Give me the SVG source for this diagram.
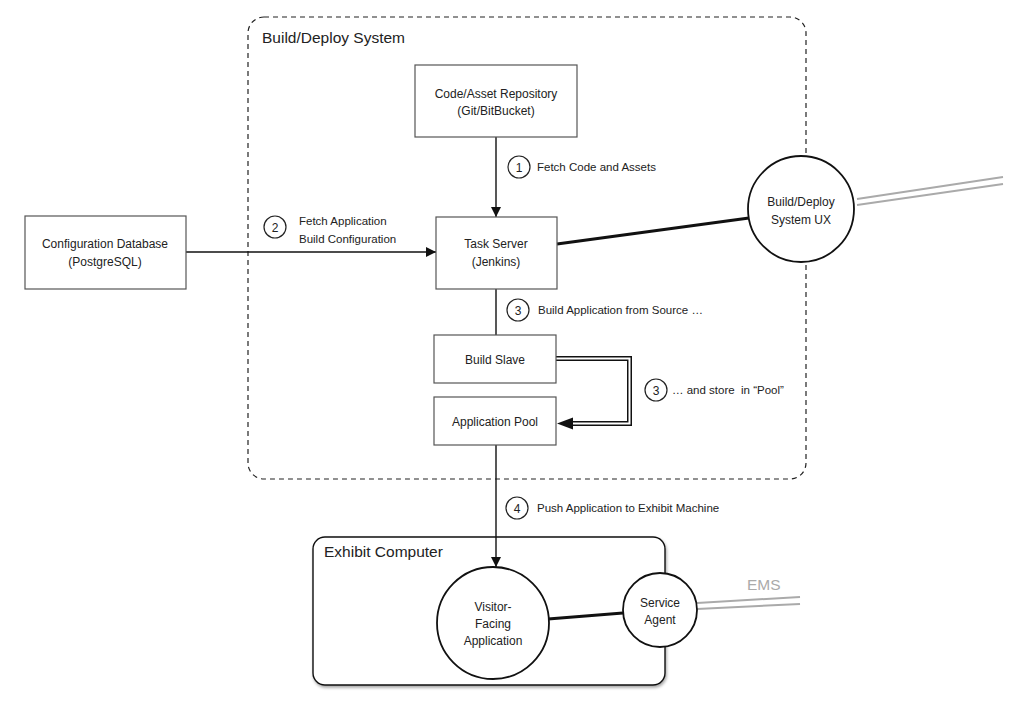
<svg xmlns="http://www.w3.org/2000/svg" width="1024" height="709" viewBox="0 0 1024 709">
<defs>
<style>
text{font-family:"Liberation Sans",Arial,sans-serif;fill:#222;}
.t{font-size:12px;text-anchor:middle;}
.l{font-size:11.5px;}
.h{font-size:15.5px;}
.box{fill:#fff;stroke:#555;stroke-width:1.2;}
.circ{fill:#fff;stroke:#111;stroke-width:1.8;}
.num{fill:#fff;stroke:#222;stroke-width:1.2;}
.ln{stroke:#111;stroke-width:1.4;fill:none;}
.thick{stroke:#111;stroke-width:3;fill:none;}
.gray{stroke:#aaa;stroke-width:2;fill:none;}
</style>
<marker id="ah" viewBox="0 0 10 10" refX="10" refY="5" markerWidth="10" markerHeight="10" markerUnits="userSpaceOnUse" orient="auto">
<path d="M0,0 L10,5 L0,10 z" fill="#111"/>
</marker>
<marker id="ah2" viewBox="0 0 16 12" refX="16" refY="6" markerWidth="16" markerHeight="12" markerUnits="userSpaceOnUse" orient="auto">
<path d="M0,0 L16,6 L0,12 z" fill="#111"/>
</marker>
<filter id="sh" x="-5%" y="-5%" width="110%" height="115%">
<feDropShadow dx="1" dy="2" stdDeviation="1.5" flood-color="#000" flood-opacity="0.35"/>
</filter>
</defs>
<rect width="1024" height="709" fill="#fff"/>

<g id="build-deploy-system">
<rect x="248" y="17" width="558" height="462" rx="16" fill="none" stroke="#222" stroke-width="1.2" stroke-dasharray="5,4"/>
<text class="h" x="262" y="43">Build/Deploy System</text>
</g>

<g id="exhibit-computer">
<rect x="313" y="537" width="352" height="148" rx="12" fill="#fff" stroke="#111" stroke-width="1.4" filter="url(#sh)"/>
<text class="h" x="324" y="557">Exhibit Computer</text>
</g>

<g id="connectors">
<line class="ln" x1="496" y1="137" x2="496" y2="217" marker-end="url(#ah)"/>
<line class="ln" x1="186" y1="252" x2="436" y2="252" marker-end="url(#ah)"/>
<line class="thick" x1="557" y1="244" x2="749" y2="218"/>
<line class="gray" x1="857" y1="199" x2="1003" y2="177"/>
<line class="gray" x1="857" y1="205" x2="1003" y2="184"/>
<line class="ln" x1="496" y1="289" x2="496" y2="335"/>
<path d="M556,358.5 H629.5 V423.5 H572" fill="none" stroke="#111" stroke-width="5"/>
<path d="M556,358.5 H629.5 V423.5 H572" fill="none" stroke="#fff" stroke-width="2"/>
<path d="M557,423.5 L573,417.5 L573,429.5 z" fill="#111"/>
<line class="ln" x1="496" y1="445" x2="496" y2="567" marker-end="url(#ah)"/>
<line class="thick" x1="548" y1="619" x2="623" y2="613"/>
<line class="gray" x1="697" y1="603" x2="800" y2="597"/>
<line class="gray" x1="697" y1="609" x2="800" y2="604"/>
</g>

<g id="code-repo">
<rect class="box" x="415" y="65" width="162" height="72"/>
<text class="t" x="496" y="98">Code/Asset Repository</text>
<text class="t" x="496" y="115">(Git/BitBucket)</text>
</g>

<g id="task-server">
<rect class="box" x="436" y="217" width="121" height="72"/>
<text class="t" x="496" y="248">Task Server</text>
<text class="t" x="496" y="266">(Jenkins)</text>
</g>

<g id="config-db">
<rect class="box" x="25" y="216" width="161" height="73"/>
<text class="t" x="105" y="248">Configuration Database</text>
<text class="t" x="105" y="266">(PostgreSQL)</text>
</g>

<g id="build-slave">
<rect class="box" x="434" y="335" width="122" height="48"/>
<text class="t" x="495" y="364">Build Slave</text>
</g>

<g id="app-pool">
<rect class="box" x="434" y="397" width="122" height="48"/>
<text class="t" x="495" y="426">Application Pool</text>
</g>

<g id="ux">
<circle class="circ" cx="801" cy="209" r="53"/>
<text class="t" x="801" y="206">Build/Deploy</text>
<text class="t" x="801" y="224">System UX</text>
</g>

<g id="visitor-app">
<circle class="circ" cx="493" cy="623" r="56"/>
<text class="t" x="493" y="611">Visitor-</text>
<text class="t" x="493" y="628">Facing</text>
<text class="t" x="493" y="645">Application</text>
</g>

<g id="service-agent">
<circle class="circ" cx="660" cy="610" r="37"/>
<text class="t" x="660" y="607">Service</text>
<text class="t" x="660" y="624">Agent</text>
</g>

<g id="ems">
<text x="747" y="590" font-size="15.5" style="fill:#aaa">EMS</text>
</g>

<g id="labels">
<circle class="num" cx="519" cy="167" r="11"/>
<text class="t" x="519" y="171.5">1</text>
<text class="l" x="537" y="171">Fetch Code and Assets</text>

<circle class="num" cx="275" cy="227" r="11"/>
<text class="t" x="275" y="231.5">2</text>
<text class="l" x="299" y="225">Fetch Application</text>
<text class="l" x="299" y="243">Build Configuration</text>

<circle class="num" cx="518" cy="310" r="11"/>
<text class="t" x="518" y="314.5">3</text>
<text class="l" x="538" y="314">Build Application from Source …</text>

<circle class="num" cx="656" cy="390" r="11"/>
<text class="t" x="656" y="394.5">3</text>
<text class="l" x="672" y="394" xml:space="preserve">… and store  in “Pool”</text>

<circle class="num" cx="517" cy="508" r="11"/>
<text class="t" x="517" y="512.5">4</text>
<text class="l" x="537" y="512">Push Application to Exhibit Machine</text>
</g>
</svg>
